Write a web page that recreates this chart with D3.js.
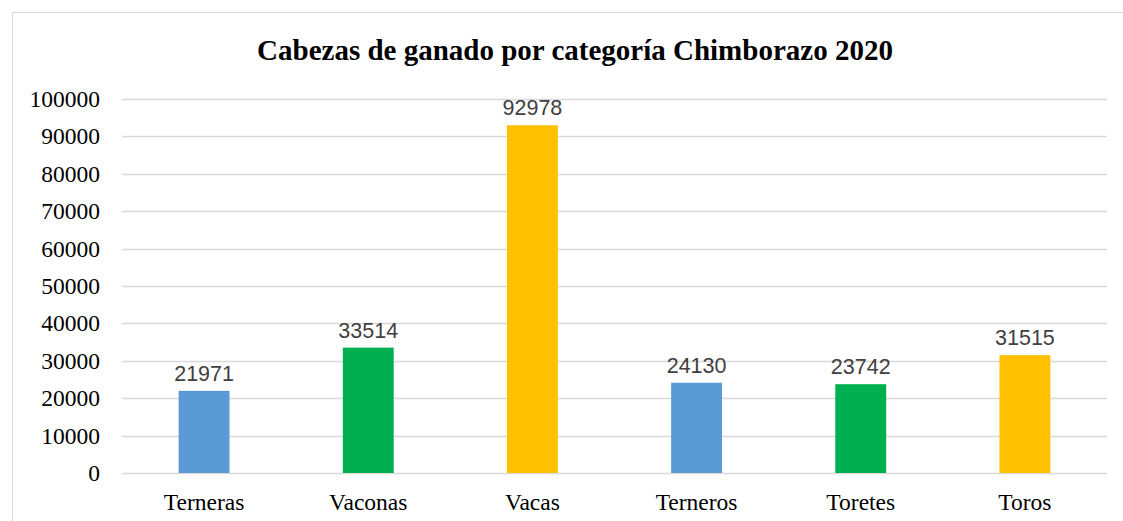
<!DOCTYPE html>
<html lang="es">
<head>
<meta charset="UTF-8" />
<title>Cabezas de ganado</title>
<style>
  body { margin: 0; background: #fff; }
  svg { display: block; }
</style>
</head>
<body>
<svg width="1123" height="521"></svg>
<script src="https://d3js.org/d3.v7.min.js"></script>
<script>
  // datos
  var categories = ["Terneras", "Vaconas", "Vacas", "Terneros", "Toretes", "Toros"];
  var values = [21971, 33514, 92978, 24130, 23742, 31515];
  var barColors = ["#5B9BD5", "#00B050", "#FFC000", "#5B9BD5", "#00B050", "#FFC000"];
  var yTicks = [0, 10000, 20000, 30000, 40000, 50000, 60000, 70000, 80000, 90000, 100000];

  (function () {
    "use strict";

    var svg = d3.select("svg");
    var plotLeft = 122, plotRight = 1107, plotTop = 99, plotBottom = 473;

    // marco
    svg.append("rect")
      .attr("x", 12.5).attr("y", 12.5)
      .attr("width", 1200).attr("height", 600)
      .attr("fill", "none").attr("stroke", "#D9D9D9").attr("stroke-width", 1);

    svg.append("text")
      .attr("x", 575).attr("y", 60)
      .attr("text-anchor", "middle")
      .attr("font-family", "'Liberation Serif', 'Times New Roman', serif")
      .attr("font-weight", "bold").attr("font-size", 29)
      .text("Cabezas de ganado por categoría Chimborazo 2020");

    var x = d3.scaleBand().domain(categories).range([plotLeft, plotRight])
      .paddingInner(0.69).paddingOuter(0.345);
    var y = d3.scaleLinear().domain([0, 100000]).range([plotBottom, plotTop]);

    // lineas de cuadricula
    svg.append("g").selectAll("line").data(yTicks).enter().append("line")
      .attr("x1", plotLeft).attr("x2", plotRight)
      .attr("y1", function (d) { return Math.round(y(d)) + 0.5; })
      .attr("y2", function (d) { return Math.round(y(d)) + 0.5; })
      .attr("stroke", "#D9D9D9").attr("stroke-width", 1.5);

    var yAxis = svg.append("g")
      .attr("transform", "translate(" + (plotLeft - 22) + ",0)")
      .call(d3.axisLeft(y).tickValues(yTicks).tickFormat(d3.format("d")).tickSize(0).tickPadding(0));
    yAxis.select(".domain").remove();
    yAxis.selectAll("text")
      .attr("font-family", "'Liberation Serif', 'Times New Roman', serif")
      .attr("font-size", 23.5).attr("fill", "#000");

    // barras
    svg.append("g").selectAll("rect").data(values).enter().append("rect")
      .attr("x", function (d, i) { return x(categories[i]); })
      .attr("y", function (d) { return y(d); })
      .attr("width", x.bandwidth())
      .attr("height", function (d) { return y(0) - y(d); })
      .attr("fill", function (d, i) { return barColors[i]; });

    // etiquetas de valor
    svg.append("g").selectAll("text").data(values).enter().append("text")
      .attr("x", function (d, i) { return x(categories[i]) + x.bandwidth() / 2; })
      .attr("y", function (d) { return y(d) - 10; })
      .attr("text-anchor", "middle")
      .attr("font-family", "'Liberation Sans', Arial, sans-serif")
      .attr("font-size", 21.5).attr("fill", "#404040")
      .text(function (d) { return d; });

    var xAxis = svg.append("g")
      .attr("transform", "translate(0," + plotBottom + ")")
      .call(d3.axisBottom(x).tickSize(0).tickPadding(0));
    xAxis.select(".domain").remove();
    xAxis.selectAll("text")
      .attr("dy", null).attr("y", 37)
      .attr("font-family", "'Liberation Serif', 'Times New Roman', serif")
      .attr("font-size", 23.5).attr("fill", "#000");
  })();
</script>
</body>
</html>
